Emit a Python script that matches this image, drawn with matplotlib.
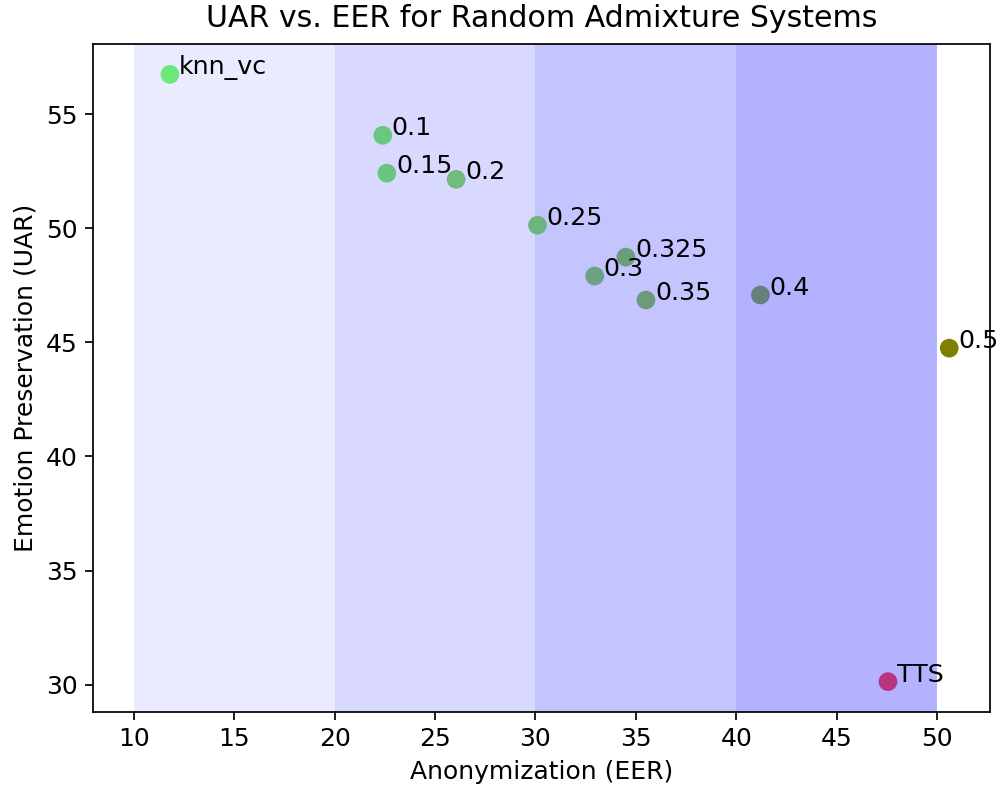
import numpy as np
from matplotlib import pyplot as plt

###### Data
labels = ['knn_vc', '0.1', '0.15', '0.2', '0.25', '0.3', '0.325', '0.35', '0.4', '0.5', 'TTS']
eer = [11.8, 22.4, 22.6, 26.05, 30.1, 32.95, 34.5, 35.5, 41.2, 50.6, 47.55]
uar = [56.75, 54.08, 52.42, 52.15, 50.14, 47.91, 48.74, 46.86, 47.08, 44.75, 30.13]
colors = ['#6BE87C', '#66C97F', '#6BC480', '#72BA7E', '#6CB67E', '#6BA281',
          '#6A9C7E', '#6E9A7A', '#66807E', '#808000', '#B93480']

band_edges = [10, 20, 30, 40, 50]
band_alpha = [0.08, 0.15, 0.23, 0.3]

###### Plot
plt.rcParams['xtick.labelsize'] = 11.5
plt.rcParams['ytick.labelsize'] = 11.5
plt.rcParams['axes.labelsize'] = 11.5
fig = plt.figure(figsize=(6.4, 5.0688), dpi=156.25)
ax = fig.add_axes([0.093, 0.101, 0.897, 0.8434])

for i in range(len(band_alpha)):
    ax.axvspan(band_edges[i], band_edges[i+1], color='blue', alpha=band_alpha[i], lw=0)

ax.scatter(eer, uar, c=colors, s=58, zorder=3)
for x, y, lab in zip(eer, uar, labels):
    ax.text(x + 0.45, y, lab, fontsize=11.7, zorder=4)

ax.set_title('UAR vs. EER for Random Admixture Systems', fontsize=13.8, pad=8)
ax.set_xlabel('Anonymization (EER)')
ax.set_ylabel('Emotion Preservation (UAR)')

fig.savefig('out.png')
